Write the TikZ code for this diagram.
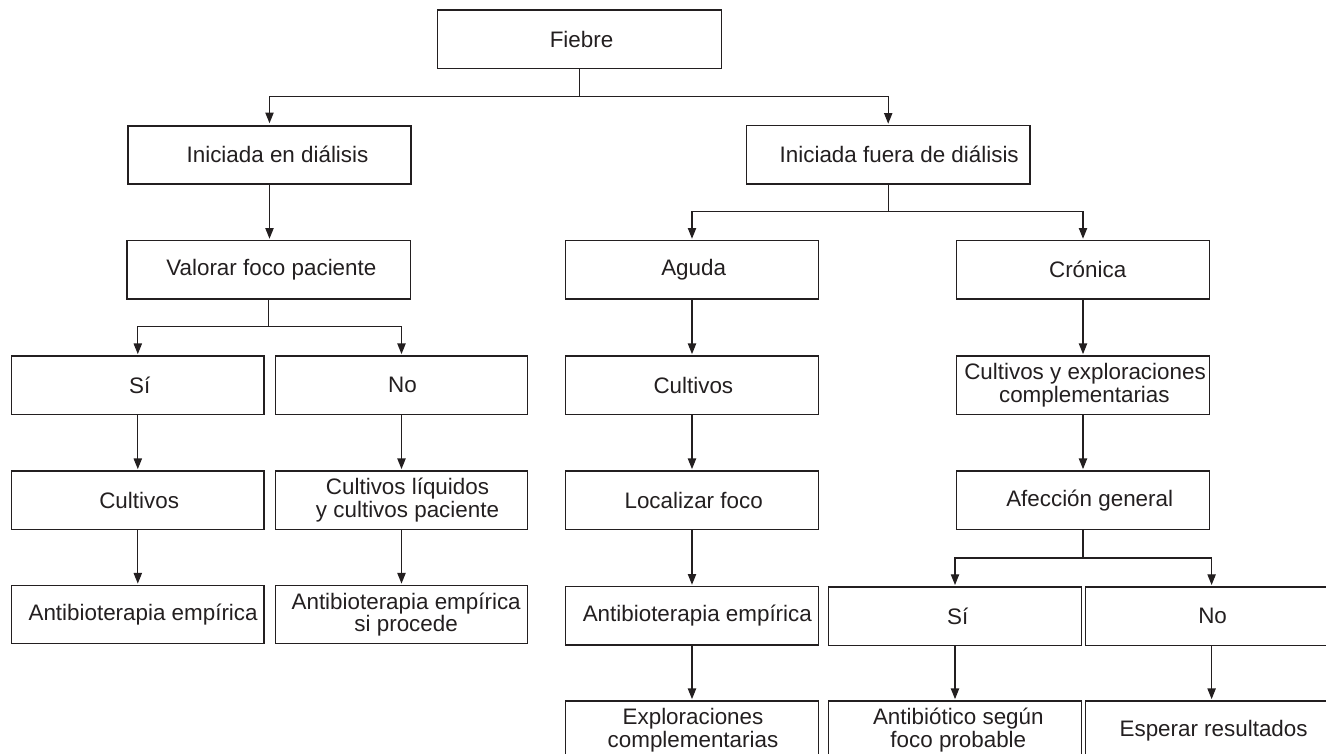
\documentclass[tikz,border=0pt]{standalone}
\usepackage{fontspec}
\setmainfont{Liberation Sans}
\usetikzlibrary{arrows.meta}
\definecolor{ink}{RGB}{35,31,32}
\begin{document}
\begin{tikzpicture}[x=0.75pt,y=-0.75pt,
  box/.style={draw=ink, line width=0.9pt, rectangle, inner sep=0pt, align=center, text=ink,
    font=\fontsize{16.8}{16.9}\selectfont, minimum height=58.3*0.75pt},
  wide/.style={box, minimum width=283.6*0.75pt},
  narrow/.style={box, minimum width=252.5*0.75pt},
  conn/.style={draw=ink, line width=0.9pt},
  arr/.style={conn, -{Triangle[length=8pt,width=6.2pt]}, shorten >=1pt}]
\useasboundingbox (0,0) rectangle (1326,753);
\clip (0,0) rectangle (1326,753);
\fill[white] (0,0) rectangle (1326,753);

% level 0-1
\node[wide] (fiebre) at (579.5,39.2) {\hspace*{3pt}Fiebre};
\node[wide, line width=1.6pt] (ini) at (269.5,154.8) {\hspace*{12pt}Iniciada en diálisis};
\node[wide] (fuera) at (888.2,154.8) {\hspace*{16.5pt}Iniciada fuera de diálisis};
% level 2
\node[wide] (valorar) at (268.7,269.8) {\hspace*{4pt}Valorar foco paciente};
\node[narrow] (aguda) at (692,269.8) {\hspace*{2.5pt}Aguda};
\node[narrow] (cronica) at (1083,269.8) {\hspace*{7pt}Crónica};
% level 3
\node[narrow] (si1) at (137.8,385.2) {\hspace*{3pt}Sí};
\node[narrow] (no1) at (401.5,385.2) {\hspace*{1.5pt}No};
\node[narrow] (cult2) at (692,385.2) {\hspace*{2pt}Cultivos};
\node[narrow] (cyexp) at (1083,385.2) {\hspace*{3pt}Cultivos y exploraciones\\\hspace*{2pt}complementarias};
% level 4
\node[narrow] (cult1) at (137.8,500.2) {\hspace*{2pt}Cultivos};
\node[narrow] (cliq) at (401.5,500.2) {\hspace*{9pt}Cultivos líquidos\\\hspace*{9pt}y cultivos paciente};
\node[narrow] (localizar) at (692,500.2) {\hspace*{2.5pt}Localizar foco};
\node[narrow] (afeccion) at (1083,500.2) {\hspace*{10pt}Afección general};
% level 5
\node[narrow] (ab1) at (137.8,614.7) {\hspace*{8pt}Antibioterapia empírica};
\node[narrow] (ab2) at (401.5,614.7) {\hspace*{7pt}Antibioterapia empírica\\\hspace*{7pt}si procede};
\node[narrow] (ab3) at (692,615.8) {\hspace*{8pt}Antibioterapia empírica};
\node[narrow] (si2) at (955,616.1) {\hspace*{4pt}Sí};
\node[narrow] (no2) at (1211.6,616.1) {\hspace*{1.5pt}No};
% level 6
\node[narrow] (expl) at (692,730.2) {\hspace*{1.5pt}Exploraciones\\\hspace*{1.5pt}complementarias};
\node[narrow] (antib) at (955,730.2) {\hspace*{5pt}Antibiótico según\\\hspace*{5pt}foco probable};
\node[narrow] (esperar) at (1211.6,730.2) {\hspace*{3pt}Esperar resultados};

% junction levels
\coordinate (y1) at (0,96.3);
\coordinate (y2) at (0,326.3);
\coordinate (y3) at (0,211.3);
\coordinate (y4) at (0,558);

% connectors
\draw[arr] (fiebre.south) -- (fiebre.south |- y1) -| (ini.north);
\draw[arr] (fiebre.south |- y1) -| (fuera.north);
\draw[arr] (ini.south) -- (ini.south |- valorar.north);
\draw[arr] (valorar.south) -- (valorar.south |- y2) -| (si1.north);
\draw[arr] (valorar.south |- y2) -| (no1.north);
\draw[arr] (fuera.south) -- (fuera.south |- y3) -| (aguda.north);
\draw[arr] (fuera.south |- y3) -| (cronica.north);
\draw[arr] (si1) -- (cult1);
\draw[arr] (cult1) -- (ab1);
\draw[arr] (no1) -- (cliq);
\draw[arr] (cliq) -- (ab2);
\draw[arr] (aguda) -- (cult2);
\draw[arr] (cult2) -- (localizar);
\draw[arr] (localizar) -- (ab3);
\draw[arr] (ab3) -- (expl);
\draw[arr] (cronica) -- (cyexp);
\draw[arr] (cyexp) -- (afeccion);
\draw[arr] (afeccion.south) -- (afeccion.south |- y4) -| (si2.north);
\draw[arr] (afeccion.south |- y4) -| (no2.north);
\draw[arr] (si2) -- (antib);
\draw[arr] (no2) -- (esperar);
\end{tikzpicture}
\end{document}
